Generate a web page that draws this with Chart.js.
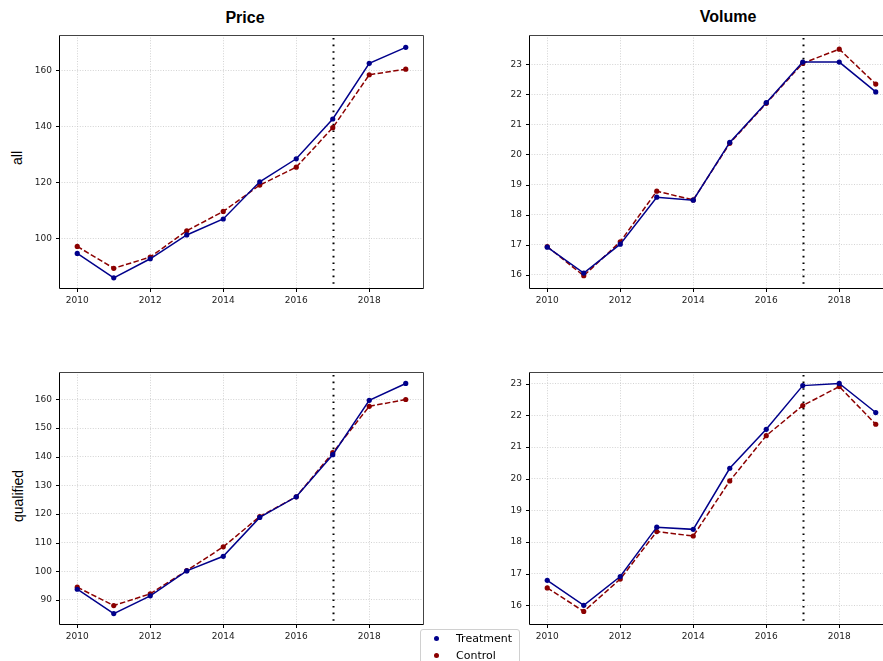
<!DOCTYPE html>
<html>
<head>
<meta charset="utf-8">
<script src="https://cdn.jsdelivr.net/npm/chart.js@4/dist/chart.umd.min.js"></script>
<style>
  html, body { margin: 0; padding: 0; background: #fff; overflow: hidden; }
  body { width: 883px; height: 661px; position: relative; }
  canvas { position: absolute; }
  .title { position: absolute; font: bold 16px "Liberation Sans", Arial, sans-serif; color: #000; transform: translate(-50%, -50%); white-space: nowrap; }
  .rowlabel { position: absolute; font: 14px "Liberation Sans", Arial, sans-serif; color: #000; transform: translate(-50%, -50%) rotate(-90deg); white-space: nowrap; }
  .legend { position: absolute; left: 420px; top: 629px; width: 98px; height: 40px; border: 1px solid #d0d0d0; border-radius: 3px; background: #fff; font: 11px "DejaVu Sans", sans-serif; color: #000; }
  .legend .item { position: absolute; left: 0; height: 17px; line-height: 17px; }
  .legend .dot { position: absolute; left: 13px; top: 6px; width: 5px; height: 5px; border-radius: 50%; }
  .legend .txt { position: absolute; left: 35px; top: 0; white-space: nowrap; }
</style>
</head>
<body>
<div class="title" style="left:245px; top:18px;">Price</div>
<div class="title" style="left:728px; top:17px;">Volume</div>
<div class="rowlabel" style="left:17px; top:158px;">all</div>
<div class="rowlabel" style="left:18px; top:496px;">qualified</div>

<canvas id="priceAll" width="440" height="280" style="left:0px; top:30px;"></canvas>
<canvas id="volumeAll" width="440" height="280" style="left:470px; top:30px;"></canvas>
<canvas id="priceQual" width="440" height="279" style="left:0px; top:367px;"></canvas>
<canvas id="volumeQual" width="440" height="279" style="left:470px; top:367px;"></canvas>

<div class="legend">
  <div class="item" style="top:0px;"><span class="dot" style="background:#00008b"></span><span class="txt">Treatment</span></div>
  <div class="item" style="top:17px;"><span class="dot" style="background:#8b0000"></span><span class="txt">Control</span></div>
</div>

<script>
// data
const years = [2010, 2011, 2012, 2013, 2014, 2015, 2016, 2017, 2018, 2019];
const xTicks = [2010, 2012, 2014, 2016, 2018];
const eventYear = 2017;

const priceAllTreatment = [94.6, 85.9, 92.7, 101.2, 106.9, 120.2, 128.4, 142.6, 162.5, 168.2];
const priceAllControl   = [97.1, 89.3, 93.3, 102.7, 109.6, 119.0, 125.4, 139.5, 158.4, 160.4];
const priceAllTicks = [100, 120, 140, 160];

const volumeAllTreatment = [16.92, 16.06, 17.02, 18.58, 18.48, 20.40, 21.72, 23.07, 23.07, 22.08];
const volumeAllControl   = [16.94, 15.97, 17.10, 18.78, 18.49, 20.37, 21.70, 23.03, 23.50, 22.34];
const volumeAllTicks = [16, 17, 18, 19, 20, 21, 22, 23];

const priceQualTreatment = [93.7, 85.2, 91.4, 100.1, 105.2, 118.8, 126.0, 140.7, 159.7, 165.6];
const priceQualControl   = [94.4, 88.0, 92.1, 100.2, 108.5, 119.1, 126.0, 141.4, 157.6, 160.0];
const priceQualTicks = [90, 100, 110, 120, 130, 140, 150, 160];

const volumeQualTreatment = [16.79, 16.00, 16.91, 18.47, 18.40, 20.33, 21.56, 22.94, 23.01, 22.09];
const volumeQualControl   = [16.55, 15.81, 16.83, 18.33, 18.19, 19.93, 21.36, 22.31, 22.91, 21.72];
const volumeQualTicks = [16, 17, 18, 19, 20, 21, 22, 23];

// frame, tick marks and the vertical event line
const axesDecor = {
    id: 'axesDecor',
    beforeDatasetsDraw(chart) {
        const c = chart.ctx, a = chart.chartArea;
        const x = Math.round(chart.scales.x.getPixelForValue(eventYear)) + 0.5;
        c.save();
        c.strokeStyle = '#000';
        c.lineWidth = 2;
        c.setLineDash([1.6, 5]);
        c.beginPath();
        c.moveTo(x, a.top + 3);
        c.lineTo(x, a.bottom - 3);
        c.stroke();
        c.restore();
    },
    afterDraw(chart) {
        const c = chart.ctx, a = chart.chartArea;
        const l = Math.round(a.left) + 0.5, r = Math.round(a.right) - 0.5;
        const t = Math.round(a.top) + 0.5, b = Math.round(a.bottom) - 0.5;
        c.save();
        c.lineWidth = 1;
        c.strokeStyle = '#444';
        c.beginPath();
        c.moveTo(l, t); c.lineTo(r, t); c.lineTo(r, b);
        c.stroke();
        c.strokeStyle = '#000';
        c.beginPath();
        c.moveTo(l, t); c.lineTo(l, b); c.lineTo(r, b);
        c.stroke();
        chart.scales.y.ticks.forEach(tk => {
            const y = Math.round(chart.scales.y.getPixelForValue(tk.value)) + 0.5;
            c.beginPath(); c.moveTo(l - 3.5, y); c.lineTo(l, y); c.stroke();
        });
        chart.scales.x.ticks.forEach(tk => {
            const x = Math.round(chart.scales.x.getPixelForValue(tk.value)) + 0.5;
            c.beginPath(); c.moveTo(x, b); c.lineTo(x, b + 3.5); c.stroke();
        });
        c.restore();
    }
};

const tickFont = { family: '"DejaVu Sans", sans-serif', size: 9 };

const makeChart = (id, treatment, control, yTicks, yMin, yMax) => {
    new Chart(document.getElementById(id), {
        type: 'line',
        data: {
            datasets: [{
                label: 'Treatment',
                data: years.map((y, i) => ({ x: y, y: treatment[i] })),
                borderColor: '#00008b',
                backgroundColor: '#00008b',
                borderWidth: 1.5,
                pointRadius: 2.6,
                pointBorderWidth: 0,
                tension: 0
            }, {
                label: 'Control',
                data: years.map((y, i) => ({ x: y, y: control[i] })),
                borderColor: '#8b0000',
                backgroundColor: '#8b0000',
                borderWidth: 1.5,
                borderDash: [5.5, 2.4],
                pointRadius: 2.6,
                pointBorderWidth: 0,
                tension: 0
            }]
        },
        options: {
            responsive: false,
            animation: false,
            layout: { padding: { left: 0, right: 16, top: 5, bottom: 0 } },
            plugins: { legend: { display: false }, tooltip: { enabled: false } },
            scales: {
                x: {
                    type: 'linear',
                    min: 2009.5,
                    max: 2019.5,
                    afterBuildTicks: s => { s.ticks = xTicks.map(v => ({ value: v })); },
                    afterFit: s => { s.height = 21; s.paddingLeft = 0; s.paddingRight = 0; },
                    ticks: { font: tickFont, color: '#222', padding: 6, maxRotation: 0, callback: v => String(v) },
                    grid: { color: '#c8c8c8', lineWidth: 0.8, drawTicks: false },
                    border: { display: false, dash: [1, 1.6] }
                },
                y: {
                    type: 'linear',
                    min: yMin,
                    max: yMax,
                    afterBuildTicks: s => { s.ticks = yTicks.map(v => ({ value: v })); },
                    afterFit: s => { s.width = 59; s.paddingTop = 0; s.paddingBottom = 0; },
                    ticks: { font: tickFont, color: '#222', padding: 7 },
                    grid: { color: '#c8c8c8', lineWidth: 0.8, drawTicks: false },
                    border: { display: false, dash: [1, 1.6] }
                }
            }
        },
        plugins: [axesDecor]
    });
};

makeChart('priceAll', priceAllTreatment, priceAllControl, priceAllTicks, 81.9, 172.6);
makeChart('volumeAll', volumeAllTreatment, volumeAllControl, volumeAllTicks, 15.53, 23.97);
makeChart('priceQual', priceQualTreatment, priceQualControl, priceQualTicks, 81.2, 169.6);
makeChart('volumeQual', volumeQualTreatment, volumeQualControl, volumeQualTicks, 15.38, 23.37);
</script>
</body>
</html>
